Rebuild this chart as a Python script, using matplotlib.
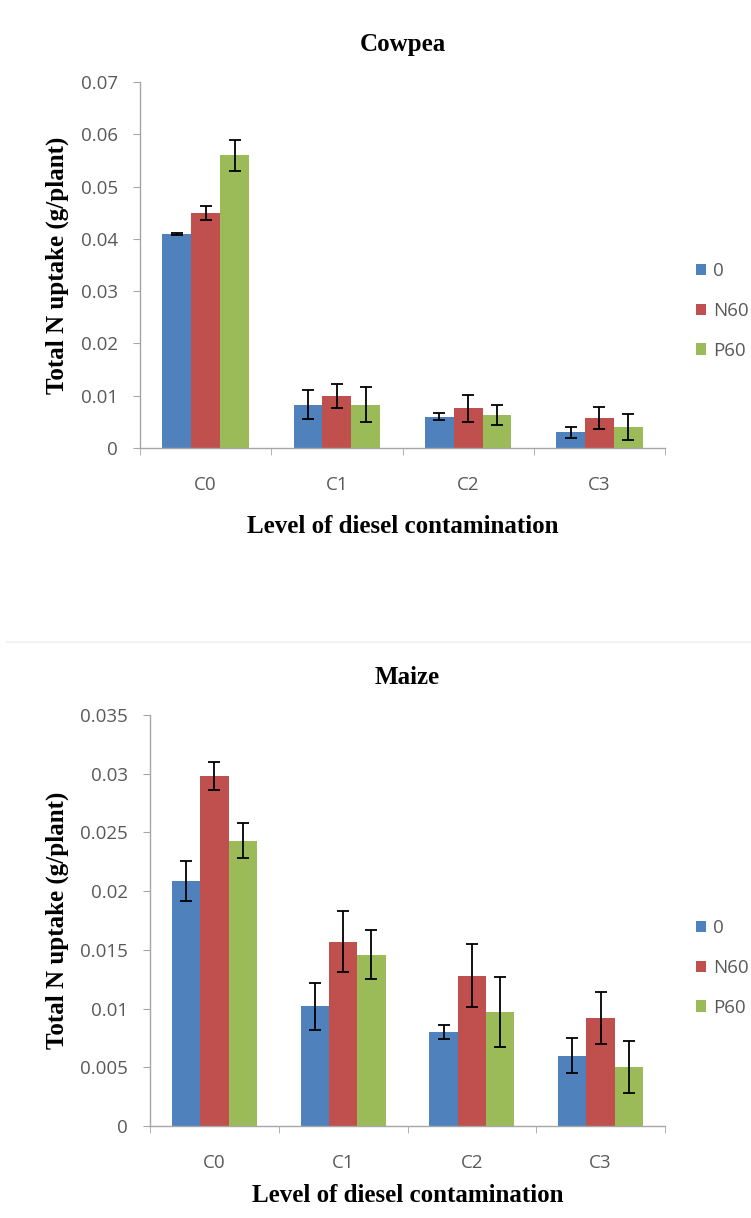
import matplotlib
matplotlib.use("Agg")
import matplotlib.pyplot as plt
import numpy as np

categories = ["C0", "C1", "C2", "C3"]
series = ["0", "N60", "P60"]
colors = ["#4F81BD", "#C0504D", "#9BBB59"]

cowpea_0 = [0.041, 0.0083, 0.0060, 0.0030]
cowpea_n60 = [0.045, 0.0100, 0.0076, 0.0057]
cowpea_p60 = [0.056, 0.0083, 0.0063, 0.0040]
cowpea_err_0 = [0.0002, 0.0027, 0.0007, 0.0010]
cowpea_err_n60 = [0.0013, 0.0023, 0.0026, 0.0021]
cowpea_err_p60 = [0.0030, 0.0034, 0.0019, 0.0025]

maize_0 = [0.0209, 0.0102, 0.0080, 0.0060]
maize_n60 = [0.0298, 0.0157, 0.0128, 0.0092]
maize_p60 = [0.0243, 0.0146, 0.0097, 0.0050]
maize_err_0 = [0.0017, 0.0020, 0.0006, 0.0015]
maize_err_n60 = [0.0012, 0.0026, 0.0027, 0.0022]
maize_err_p60 = [0.0015, 0.0021, 0.0030, 0.0022]

cowpea_ticks = [0, 0.01, 0.02, 0.03, 0.04, 0.05, 0.06, 0.07]
cowpea_ticklabels = ["0", "0.01", "0.02", "0.03", "0.04", "0.05", "0.06", "0.07"]
maize_ticks = [0, 0.005, 0.01, 0.015, 0.02, 0.025, 0.03, 0.035]
maize_ticklabels = ["0", "0.005", "0.01", "0.015", "0.02", "0.025", "0.03", "0.035"]

W, H = 751, 1218
fig = plt.figure(figsize=(W / 100, H / 100), dpi=100)
serif = "Liberation Serif"
sans = "Open Sans"
gray = "#595959"
axis_gray = "#A6A6A6"

# faint chart-area separator line as in the reference
fig.add_artist(plt.Line2D([7 / W, 1.0], [1 - 642 / H, 1 - 642 / H],
                          transform=fig.transFigure, color="#F2F2F2", lw=1.5))


def draw(left, right, top, bottom, title, vals, errs, ticks, ticklabels, ymax,
         legend_cy, xlabelpad):
    ax = fig.add_axes([left / W, 1 - bottom / H, (right - left) / W, (bottom - top) / H])
    x = np.arange(len(categories))
    w = 0.22
    for i, (v, e) in enumerate(zip(vals, errs)):
        ax.bar(x + (i - 1) * w, v, w, color=colors[i], label=series[i],
               yerr=e, error_kw=dict(ecolor="black", elinewidth=1.3, capsize=4, capthick=1.3))
    ax.set_xlim(-0.5, len(categories) - 0.5)
    ax.set_ylim(0, ymax)
    ax.set_yticks(ticks)
    ax.set_yticklabels(ticklabels, fontfamily=sans, fontsize=13.5, color=gray)
    ax.set_xticks(x)
    ax.set_xticklabels(categories, fontfamily=sans, fontsize=13.5, color=gray)
    ax.set_xticks(np.arange(len(categories) + 1) - 0.5, minor=True)
    ax.tick_params(axis="x", which="major", length=0, pad=20)
    ax.tick_params(axis="x", which="minor", length=5, color=axis_gray, direction="out")
    ax.tick_params(axis="y", length=5, color=axis_gray, direction="out", pad=11)
    for s in ["top", "right"]:
        ax.spines[s].set_visible(False)
    for s in ["left", "bottom"]:
        ax.spines[s].set_color(axis_gray)
        ax.spines[s].set_linewidth(1.0)
    ax.set_title(title, fontfamily=serif, fontweight="bold", fontsize=18, pad=22)
    fig.text(57 / W, 1 - (top + bottom) / 2 / H, "Total N uptake (g/plant)",
             fontfamily=serif, fontweight="bold", fontsize=18, rotation=90,
             ha="center", va="center")
    ax.set_xlabel("Level of diesel contamination", fontfamily=serif, fontweight="bold",
                  fontsize=18, labelpad=xlabelpad)
    leg = fig.legend(*ax.get_legend_handles_labels(), loc="center left",
                     bbox_to_anchor=(696 / W, 1 - legend_cy / H), bbox_transform=fig.transFigure,
                     frameon=False, prop={"family": sans, "size": 13.5},
                     handlelength=0.55, handleheight=0.55, handletextpad=0.35,
                     labelspacing=1.15, borderpad=0, borderaxespad=0)
    for t in leg.get_texts():
        t.set_color(gray)
    return ax


draw(140, 665, 82, 448, "Cowpea",
     [cowpea_0, cowpea_n60, cowpea_p60],
     [cowpea_err_0, cowpea_err_n60, cowpea_err_p60],
     cowpea_ticks, cowpea_ticklabels, 0.07, 311, 15)

draw(150, 665, 715, 1126, "Maize",
     [maize_0, maize_n60, maize_p60],
     [maize_err_0, maize_err_n60, maize_err_p60],
     maize_ticks, maize_ticklabels, 0.035, 968, 9)

fig.savefig("out.png", dpi=100, facecolor="white")
